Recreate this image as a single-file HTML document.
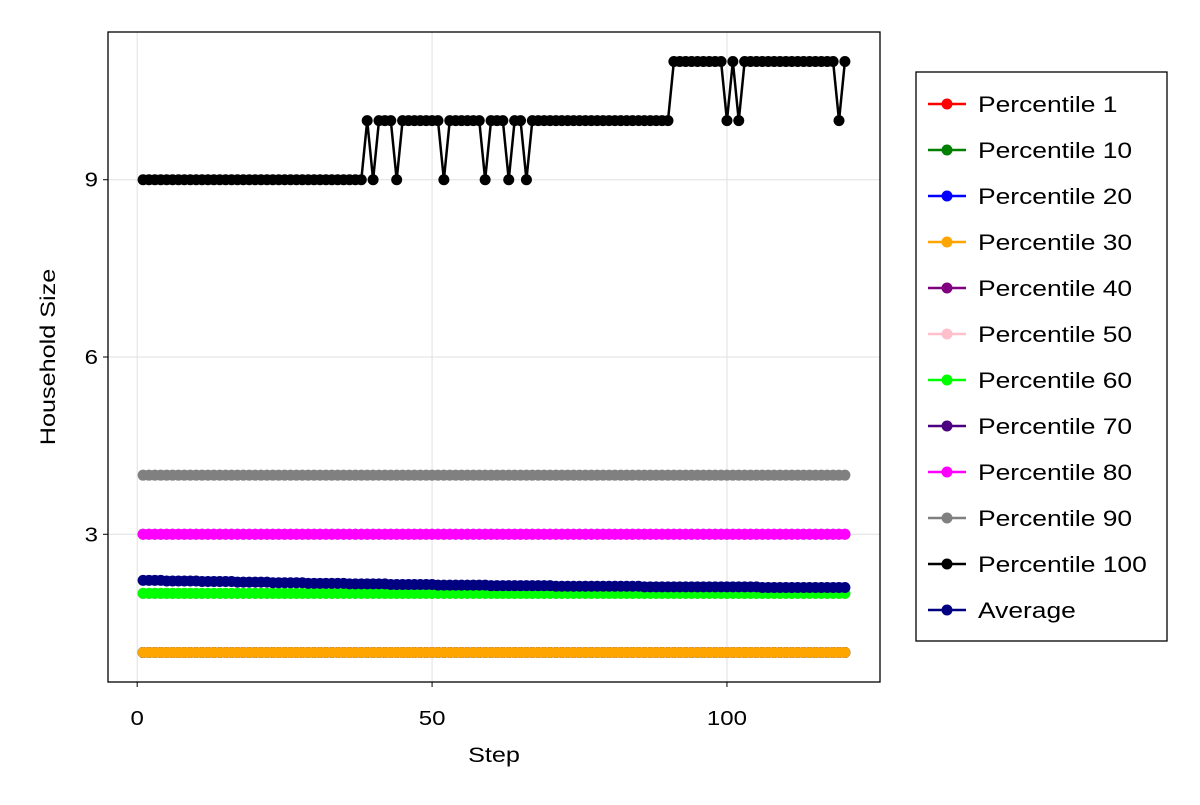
<!DOCTYPE html>
<html><head><meta charset="utf-8"><style>
body{margin:0;background:#fff;font-family:"Liberation Sans",sans-serif}
svg text{font-family:"Liberation Sans",sans-serif}
</style></head><body>
<svg id="c" width="1200" height="800" xmlns="http://www.w3.org/2000/svg"></svg>
<script>
const seriesNames=["Percentile 1","Percentile 10","Percentile 20","Percentile 30","Percentile 40","Percentile 50","Percentile 60","Percentile 70","Percentile 80","Percentile 90","Percentile 100","Average"];
const seriesColors=["red","green","blue","orange","purple","pink","lime","indigo","magenta","gray","black","navy"];
const constLevels=[1,1,1,1,2,2,2,3,3,4];
const p100Changes=[[1,9],[39,10],[40,9],[41,10],[44,9],[45,10],[52,9],[53,10],[59,9],[60,10],[63,9],[64,10],[66,9],[67,10],[91,11],[100,10],[101,11],[102,10],[103,11],[119,10],[120,11]];
const averageVals=[2.22,2.22,2.22,2.22,2.21,2.21,2.21,2.21,2.21,2.21,2.2,2.2,2.2,2.2,2.2,2.2,2.19,2.19,2.19,2.19,2.19,2.19,2.18,2.18,2.18,2.18,2.18,2.18,2.17,2.17,2.17,2.17,2.17,2.17,2.17,2.16,2.16,2.16,2.16,2.16,2.16,2.16,2.15,2.15,2.15,2.15,2.15,2.15,2.15,2.15,2.14,2.14,2.14,2.14,2.14,2.14,2.14,2.14,2.14,2.13,2.13,2.13,2.13,2.13,2.13,2.13,2.13,2.13,2.13,2.13,2.12,2.12,2.12,2.12,2.12,2.12,2.12,2.12,2.12,2.12,2.12,2.12,2.12,2.12,2.12,2.11,2.11,2.11,2.11,2.11,2.11,2.11,2.11,2.11,2.11,2.11,2.11,2.11,2.11,2.11,2.11,2.11,2.11,2.11,2.11,2.1,2.1,2.1,2.1,2.1,2.1,2.1,2.1,2.1,2.1,2.1,2.1,2.1,2.1,2.1];
const xTicks=[0,50,100];
const yTicks=[3,6,9];
const N=120;
const L=108,R=880,T=32,B=682,xmin=-4.95,xmax=125.95,ymin=0.5,ymax=11.5;
const X=v=>L+(v-xmin)/(xmax-xmin)*(R-L);
const Y=v=>B-(v-ymin)/(ymax-ymin)*(B-T);
const svg=document.getElementById('c');const NS='http://www.w3.org/2000/svg';
function el(t,a,p){const e=document.createElementNS(NS,t);for(const k in a)e.setAttribute(k,a[k]);(p||svg).appendChild(e);return e;}
const texts=[];
xTicks.forEach(t=>{const g=el('line',{x1:X(t),x2:X(t),y1:T,y2:B,stroke:'#e0e0e0','stroke-width':1});


const tx=el('text',{x:X(t),y:725,'text-anchor':'middle','font-size':20,fill:'#000'});tx.textContent=t;texts.push(tx);

});
yTicks.forEach(t=>{const g=el('line',{x1:L,x2:R,y1:Y(t),y2:Y(t),stroke:'#e0e0e0','stroke-width':1});


const tx=el('text',{x:98,y:Y(t)+7,'text-anchor':'end','font-size':20,fill:'#000'});tx.textContent=t;texts.push(tx);

});
function p100(s){let v=9;p100Changes.forEach(c=>{if(s>=c[0])v=c[1];});return v;}
const data=seriesNames.map((n,i)=>{const a=[];for(let s=1;s<=N;s++){a.push(i<10?constLevels[i]:(i==10?p100(s):averageVals[s-1]));}return a;});
data.forEach((arr,i)=>{const g=el('g',{});


el('polyline',{points:arr.map((v,k)=>X(k+1)+','+Y(v)).join(' '),fill:'none',stroke:seriesColors[i],'stroke-width':2.5},g);
arr.forEach((v,k)=>{const c=el('circle',{cx:X(k+1),cy:Y(v),r:5.5,fill:seriesColors[i]},g);

});});
const f=el('rect',{x:L,y:T,width:R-L,height:B-T,fill:'none',stroke:'#000','stroke-width':1.3});


xTicks.forEach(t=>el('line',{x1:X(t),x2:X(t),y1:B,y2:B+5,stroke:'#000'}));
yTicks.forEach(t=>el('line',{x1:L-5,x2:L,y1:Y(t),y2:Y(t),stroke:'#000'}));
const xt=el('text',{x:494,y:762,'text-anchor':'middle','font-size':21,fill:'#000'});xt.textContent='Step';texts.push(xt);


const yt=el('text',{x:0,y:0,'text-anchor':'middle','font-size':21,fill:'#000',transform:'translate(55,357) rotate(-90)'});yt.textContent='Household Size';texts.push(yt);


const lg=el('g',{});


el('rect',{x:916,y:72,width:251,height:569,fill:'#fff',stroke:'#000','stroke-width':1.3},lg);
seriesNames.forEach((n,i)=>{const y=104+i*46;const e=el('g',{},lg);


el('line',{x1:928,x2:966,y1:y,y2:y,stroke:seriesColors[i],'stroke-width':2.5},e);
el('circle',{cx:947,cy:y,r:5.5,fill:seriesColors[i]},e);
const t=el('text',{x:978,y:y+8,'font-size':22,fill:'#000'},e);t.textContent=n;texts.push(t);});
texts.forEach(t=>{const w=t.getComputedTextLength();t.setAttribute('textLength',w*1.2);t.setAttribute('lengthAdjust','spacingAndGlyphs');});
</script>
</body></html>
